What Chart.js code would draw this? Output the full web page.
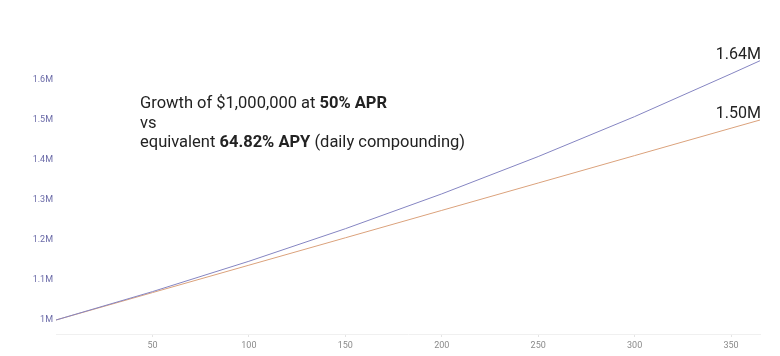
<!DOCTYPE html>
<html lang="en">
<head>
  <meta charset="UTF-8" />
  <title>APR vs APY</title>
  <script src="https://cdn.jsdelivr.net/npm/chart.js"></script>
  <style>
    html, body {
      margin: 0;
      padding: 0;
      background: #fff;
    }
    #wrap {
      position: relative;
      width: 780px;
      height: 356px;
    }
  </style>
</head>
<body>

<div id="wrap">
  <canvas id="chart" width="780" height="356"></canvas>
</div>

<script>
  // day of year
  const days = [0, 50, 100, 150, 200, 250, 300, 350, 365];
  // daily compounding (APY) - blue line
  const apyValues = [1000000, 1070900, 1146800, 1228200, 1315300, 1408600, 1508500, 1615500, 1648200];
  // simple 50% APR - orange line
  const aprValues = [1000000, 1068500, 1137000, 1205500, 1274000, 1342500, 1411000, 1479500, 1500000];
  const xTicks = [50, 100, 150, 200, 250, 300, 350];
  const yTicks = [1000000, 1100000, 1200000, 1300000, 1400000, 1500000, 1600000];
  const endLabels = ["1.64M", "1.50M"];
  const titleLines = [
    [["Growth of $1,000,000 at ", false], ["50% APR", true]],
    [["vs", false]],
    [["equivalent ", false], ["64.82% APY", true], [" (daily compounding)", false]]
  ];

  const overlay = {
    id: "overlay",
    afterDraw(chart) {
      const ctx = chart.ctx;
      ctx.save();
      ctx.fillStyle = "#222";
      ctx.textBaseline = "alphabetic";

      // title block
      let y = 108;
      titleLines.forEach(line => {
        let x = 140;
        line.forEach(([txt, bold]) => {
          ctx.font = (bold ? "bold " : "") + "16.5px Roboto";
          ctx.textAlign = "left";
          ctx.fillText(txt, x, y);
          x += ctx.measureText(txt).width;
        });
        y += 19.5;
      });

      // labels at line ends
      ctx.font = "16px Roboto";
      ctx.textAlign = "right";
      chart.data.datasets.forEach((ds, i) => {
        const meta = chart.getDatasetMeta(i);
        const pt = meta.data[meta.data.length - 1];
        ctx.fillText(endLabels[i], pt.x + 1, pt.y - 2);
      });
      ctx.restore();
    }
  };

  new Chart(document.getElementById("chart"), {
    type: "line",
    data: {
      datasets: [
        {
          label: "APY",
          data: days.map((d, i) => ({ x: d, y: apyValues[i] })),
          borderColor: "#8585c2",
          borderWidth: 1,
          pointRadius: 0,
          fill: false,
          tension: 0
        },
        {
          label: "APR",
          data: days.map((d, i) => ({ x: d, y: aprValues[i] })),
          borderColor: "#dba27c",
          borderWidth: 1,
          pointRadius: 0,
          fill: false,
          tension: 0
        }
      ]
    },
    options: {
      responsive: false,
      animation: false,
      layout: { padding: { top: 48, right: 20, left: 0, bottom: 0 } },
      plugins: {
        legend: { display: false },
        tooltip: { enabled: false }
      },
      scales: {
        x: {
          type: "linear",
          min: 0,
          max: 365,
          afterBuildTicks: s => { s.ticks = xTicks.map(v => ({ value: v })); },
          afterFit: s => { s.height = 22; },
          grid: {
            display: true,
            drawOnChartArea: false,
            drawTicks: true,
            tickLength: 3,
            color: "#e4e4e4"
          },
          border: { display: true, color: "#f0f0f0" },
          ticks: {
            color: "#8a8a8a",
            font: { family: "Roboto", size: 9 },
            padding: 3,
            maxRotation: 0
          }
        },
        y: {
          type: "linear",
          min: 965000,
          max: 1680000,
          afterBuildTicks: s => { s.ticks = yTicks.map(v => ({ value: v })); },
          afterFit: s => { s.width = 56; },
          grid: { display: false, drawTicks: false },
          border: { display: false },
          ticks: {
            color: "#6b6ba8",
            font: { family: "Roboto", size: 9 },
            padding: 3,
            callback: v => (v === 1000000 ? "1M" : (v / 1000000).toFixed(1) + "M")
          }
        }
      }
    },
    plugins: [overlay]
  });
</script>

</body>
</html>
